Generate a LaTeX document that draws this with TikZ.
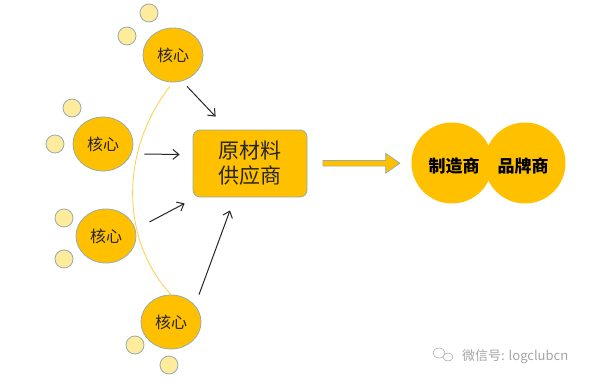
\documentclass[tikz,border=0pt]{standalone}
\usepackage{fontspec}
\setmainfont{Noto Sans CJK SC}
\usetikzlibrary{arrows.meta,positioning,shapes.geometric,shapes.arrows,calc}
\definecolor{gold}{RGB}{255,192,0}
\definecolor{paleyellow}{RGB}{255,235,156}
\definecolor{rim}{RGB}{150,172,172}
\definecolor{ink}{RGB}{38,38,38}
\definecolor{arcline}{RGB}{255,205,70}
\definecolor{wmgray}{RGB}{165,165,165}

\tikzset{
  core/.style={ellipse,fill=gold,draw=rim,line width=0.8pt,
    minimum width=60pt,minimum height=54pt,inner sep=0pt,
    font=\fontsize{16}{19}\selectfont,text=ink},
  bead/.style={circle,fill=paleyellow,draw=rim,line width=0.8pt,
    minimum size=18pt,inner sep=0pt},
  supplier/.style={rectangle,rounded corners=7pt,fill=gold,draw=rim,
    line width=0.8pt,minimum width=114pt,minimum height=67pt,
    align=center,font=\fontsize{21}{25}\selectfont,text=ink},
  maker/.style={circle,fill=gold,minimum size=81pt,inner sep=0pt},
  makertext/.style={font=\fontsize{17}{20}\selectfont\bfseries,text=black},
  feed/.style={-{Straight Barb[length=6pt,width=10pt]},line width=1pt,ink},
  bigarrow/.style={single arrow,fill=gold,draw=rim,line width=0.7pt,
    minimum height=77pt,minimum width=12pt,inner sep=2.5pt,
    single arrow tip angle=70},
}

\begin{document}
\begin{tikzpicture}[x=1pt,y=-1pt]
  \useasboundingbox (0,0) rectangle (594,383);

  % cores and their beads
  \node[core] (k1) at (173,55) {核心};
  \node[bead] (b1a) at (149,13) {};
  \node[bead] (b1b) at (127,36) {};

  \node[core] (k2) at (103,144) {核心};
  \node[bead] (b2a) at (72,108) {};
  \node[bead] (b2b) at (55,144) {};

  \node[core] (k3) at (106,236) {核心};
  \node[bead] (b3a) at (64,218) {};
  \node[bead] (b3b) at (64,259) {};

  \node[core] (k4) at (171,322) {核心};
  \node[bead] (b4a) at (135,345) {};
  \node[bead] (b4b) at (169,365) {};

  \draw[arcline,line width=0.8pt,shorten <=5pt]
    (k1.south) .. controls +(-53,68) and +(-51,-55) .. (k4.north);

  \node[supplier] (box) at (250,163.5) {原材料\\供应商};

  \draw[feed] ($(k1.south)+(14,4)$) -- ($(box.north west)+(23,-13)$);
  \draw[feed] ($(k2.east)+(11,10)$) -- ($(box.west)+(-13,-9)$);
  \draw[feed] ($(k3.east)+(13,-14)$) -- ($(box.south west)+(-8,6)$);
  \draw[feed] ($(k4.north)+(28,0)$) -- ($(box.south)+(-20,13)$);

  % manufacturer / brand
  \node[maker] (m1) at (452,163) {};
  \node[maker] (m2) at (525,163) {};
  \node[makertext] (t1) at (454,166) {制造商};
  \node[makertext] (t2) at (523,166) {品牌商};

  \path (box.east) -- (m1.west) node[midway,bigarrow] (flow) {};

  % watermark
  \draw[wmgray,line width=0.5pt] (439,353) ellipse (6pt and 5pt);
  \draw[wmgray,line width=0.5pt,fill=white] (448,357) ellipse (5pt and 4pt);
  \node[anchor=west,text=wmgray,font=\fontsize{13}{15}\selectfont,inner sep=0pt]
    (wm) at (462,357) {微信号: logclubcn};
\end{tikzpicture}
\end{document}
